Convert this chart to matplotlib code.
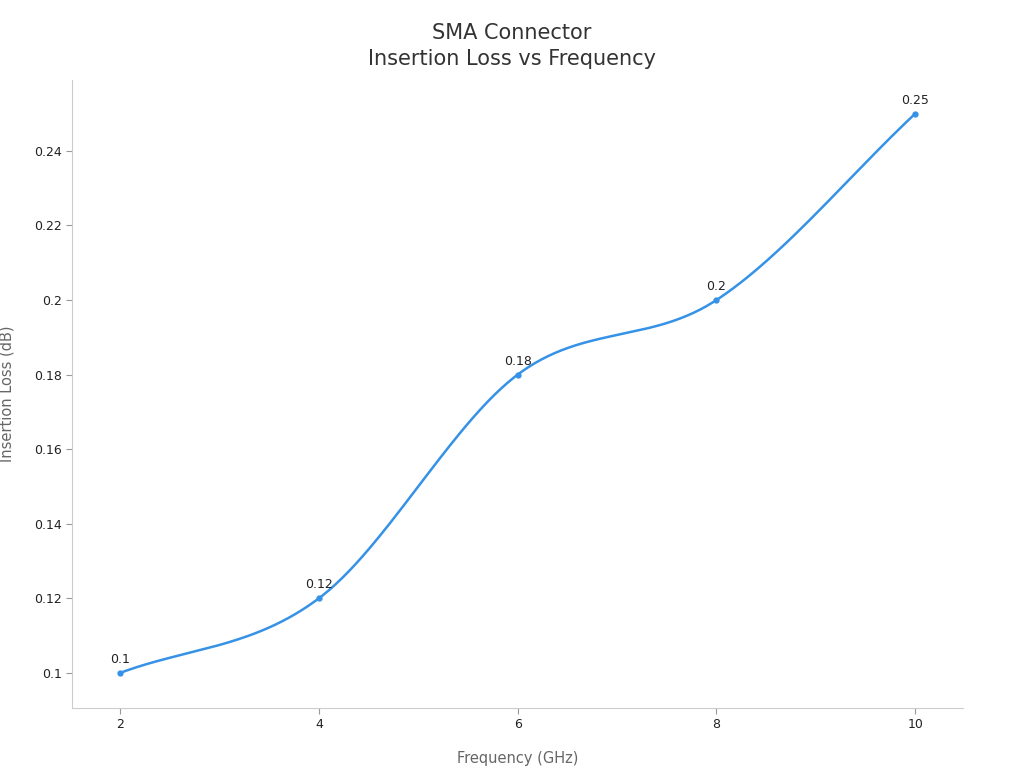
import matplotlib
matplotlib.use("Agg")
import matplotlib.pyplot as plt
import numpy as np

freq = [2, 4, 6, 8, 10]
loss = [0.1, 0.12, 0.18, 0.2, 0.25]
labels = ["0.1", "0.12", "0.18", "0.2", "0.25"]
yticks = [0.1, 0.12, 0.14, 0.16, 0.18, 0.2, 0.22, 0.24]
ytick_labels = ["0.1", "0.12", "0.14", "0.16", "0.18", "0.2", "0.22", "0.24"]

color = "#3592e6"
fig = plt.figure(figsize=(10.24, 7.68), dpi=100)
ax = fig.add_axes([72/1024, 1-708/768, (963-72)/1024, (708-80)/768])

# smooth curve (cubic Hermite with Catmull-Rom tangents)
x = np.array(freq, float); y = np.array(loss, float)
n = len(x)
m = np.zeros(n)
for i in range(n):
    if i == 0:
        m[i] = (y[1]-y[0])/(x[1]-x[0])
    elif i == n-1:
        m[i] = (y[-1]-y[-2])/(x[-1]-x[-2])
    else:
        m[i] = (y[i+1]-y[i-1])/(x[i+1]-x[i-1])
xs, ys = [], []
for i in range(n-1):
    h = x[i+1]-x[i]
    t = np.linspace(0, 1, 60)
    h00 = 2*t**3-3*t**2+1; h10 = t**3-2*t**2+t; h01 = -2*t**3+3*t**2; h11 = t**3-t**2
    xs.extend(x[i]+t*h); ys.extend(h00*y[i]+h10*h*m[i]+h01*y[i+1]+h11*h*m[i+1])
ax.plot(xs, ys, color=color, lw=1.8)
ax.plot(freq, loss, 'o', color=color, ms=3.5)
for xi, yi, lab in zip(freq, loss, labels):
    ax.annotate(lab, (xi, yi), xytext=(0, 5), textcoords="offset points",
                ha="center", va="bottom", fontsize=9, color="#222222")

ax.set_xlim(1.517, 10.48)
ax.set_ylim(0.0906, 0.259)
ax.set_xticks(freq)
ax.set_xticklabels([str(f) for f in freq])
ax.set_yticks(yticks)
ax.set_yticklabels(ytick_labels)
for s in ["top", "right"]:
    ax.spines[s].set_visible(False)
for s in ["left", "bottom"]:
    ax.spines[s].set_color("#cccccc")
ax.tick_params(colors="#222222", labelsize=9, length=4)
ax.tick_params(axis="both", color="#999999")
ax.set_xlabel("Frequency (GHz)", fontsize=10.5, color="#666666", labelpad=14)
ax.set_ylabel("Insertion Loss (dB)", fontsize=10.5, color="#666666", labelpad=14)
fig.text(0.5, 1-33/768, "SMA Connector", ha="center", va="center", fontsize=15, color="#333333")
fig.text(0.5, 1-59/768, "Insertion Loss vs Frequency", ha="center", va="center", fontsize=15, color="#333333")
fig.savefig("out.png", dpi=100)
